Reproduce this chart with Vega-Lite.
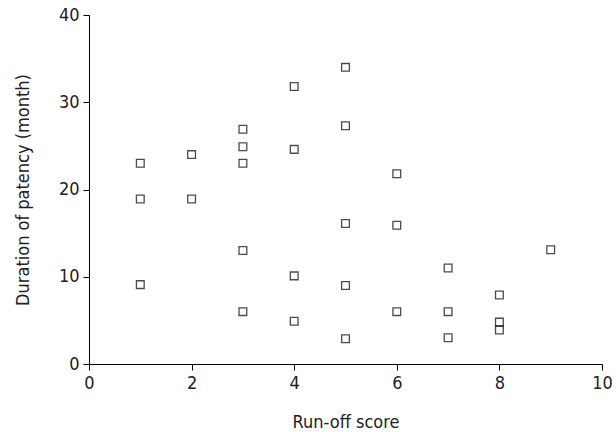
{
  "$schema": "https://vega.github.io/schema/vega-lite/v6.json",
  "autosize": "none",
  "width": 513,
  "height": 349,
  "padding": {"left": 89, "top": 15, "right": 14, "bottom": 68},
  "background": "white",
  "config": {"view": {"stroke": null}, "font": "'DejaVu Sans Condensed', 'Liberation Sans', sans-serif"},
  "data": {"values": [
    {"score": 1, "months": 23.0}, {"score": 1, "months": 18.9}, {"score": 1, "months": 9.1},
    {"score": 2, "months": 24.0}, {"score": 2, "months": 18.9},
    {"score": 3, "months": 26.9}, {"score": 3, "months": 24.9}, {"score": 3, "months": 23.0}, {"score": 3, "months": 13.0}, {"score": 3, "months": 6.0},
    {"score": 4, "months": 31.8}, {"score": 4, "months": 24.6}, {"score": 4, "months": 10.1}, {"score": 4, "months": 4.9},
    {"score": 5, "months": 34.0}, {"score": 5, "months": 27.3}, {"score": 5, "months": 16.1}, {"score": 5, "months": 9.0}, {"score": 5, "months": 2.9},
    {"score": 6, "months": 21.8}, {"score": 6, "months": 15.9}, {"score": 6, "months": 6.0},
    {"score": 7, "months": 11.0}, {"score": 7, "months": 6.0}, {"score": 7, "months": 3.0},
    {"score": 8, "months": 7.9}, {"score": 8, "months": 4.8}, {"score": 8, "months": 3.9},
    {"score": 9, "months": 13.1}
  ]},
  "mark": {"type": "square", "filled": false, "stroke": "black", "strokeWidth": 1.3, "size": 60},
  "encoding": {
    "x": {"field": "score", "type": "quantitative", "scale": {"domain": [0, 10], "nice": false},
      "axis": {"title": "Run-off score", "values": [0, 2, 4, 6, 8, 10], "grid": false, "domainColor": "black", "tickColor": "black", "tickSize": 6, "labelFontSize": 18, "labelColor": "#222", "titleFontSize": 18, "titleFontWeight": "normal", "titleColor": "#222", "titlePadding": 21, "labelPadding": 4, "labelFlush": false}},
    "y": {"field": "months", "type": "quantitative", "scale": {"domain": [0, 40], "nice": false},
      "axis": {"title": "Duration of patency (month)", "values": [0, 10, 20, 30, 40], "grid": false, "domainColor": "black", "tickColor": "black", "tickSize": 6, "labelFontSize": 18, "labelColor": "#222", "titleFontSize": 18, "titleFontWeight": "normal", "titleColor": "#222", "titlePadding": 26, "labelPadding": 4, "labelFlush": false}}
  }
}
